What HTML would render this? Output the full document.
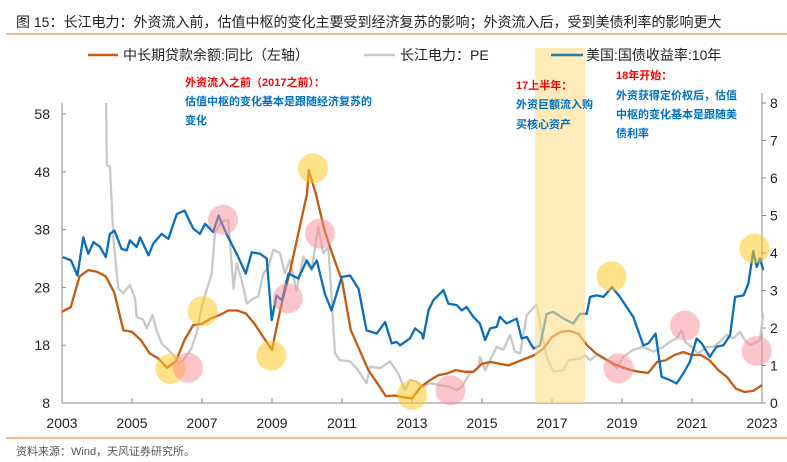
<!DOCTYPE html>
<html><head><meta charset="utf-8"><style>
body{margin:0;background:#fff;}
svg{display:block;font-family:"Liberation Sans","Noto Sans CJK SC",sans-serif;}
</style></head><body>
<svg id="chart" width="787" height="462" viewBox="0 0 787 462">
<text x="16" y="27" font-size="14" fill="#222">图 15：长江电力：外资流入前，估值中枢的变化主要受到经济复苏的影响；外资流入后，受到美债利率的影响更大</text>
<line x1="6" y1="34" x2="787" y2="34" stroke="#f4a460" stroke-width="1.5"/>
<g id="axes"></g>
<g id="series"></g>
<rect x="535" y="48" width="50" height="355" fill="rgba(253,222,140,0.6)"/>
<g id="circles"></g>
<g>
<line x1="88" y1="55" x2="118" y2="55" stroke="#c55a11" stroke-width="2.5"/>
<text x="123" y="60" font-size="14" fill="#222">中长期贷款余额:同比（左轴）</text>
<line x1="364" y1="55" x2="395" y2="55" stroke="#c8c8c8" stroke-width="2.5"/>
<text x="400" y="60" font-size="14" fill="#222">长江电力：PE</text>
<line x1="551" y1="55" x2="583" y2="55" stroke="#2a7f9e" stroke-width="2.5"/>
<text x="586" y="60" font-size="14" fill="#222">美国:国债收益率:10年</text>
</g>
<g font-size="11" font-weight="bold">
<text x="185" y="86" fill="#ff0000">外资流入之前（2017之前）：</text>
<text x="185" y="105" fill="#0070c0">估值中枢的变化基本是跟随经济复苏的</text>
<text x="185" y="124" fill="#0070c0">变化</text>
<text x="516" y="89" fill="#ff0000">17上半年：</text>
<text x="516" y="108" fill="#0070c0">外资巨额流入购</text>
<text x="516" y="128" fill="#0070c0">买核心资产</text>
<text x="616" y="79" fill="#ff0000">18年开始：</text>
<text x="616" y="99" fill="#0070c0">外资获得定价权后，估值</text>
<text x="616" y="118" fill="#0070c0">中枢的变化基本是跟随美</text>
<text x="616" y="137" fill="#0070c0">债利率</text>
</g>
<line x1="6" y1="438" x2="787" y2="438" stroke="#f4a460" stroke-width="1.5"/>
<text x="16" y="455" font-size="11" fill="#555">资料来源：Wind，天风证券研究所。</text>
</svg>
<script>
const loanDates=[2003,2003.25,2003.5,2003.75,2004,2004.25,2004.5,2004.75,2005,2005.25,2005.5,2005.75,2006,2006.25,2006.5,2006.75,2007,2007.25,2007.5,2007.75,2008,2008.25,2008.5,2008.75,2009,2009.25,2009.5,2009.75,2010,2010.05,2010.25,2010.5,2010.75,2011,2011.25,2011.5,2011.75,2012,2012.25,2012.5,2012.75,2013,2013.25,2013.5,2013.75,2014,2014.25,2014.5,2014.75,2015,2015.25,2015.5,2015.75,2016,2016.25,2016.5,2016.75,2017,2017.25,2017.5,2017.75,2018,2018.25,2018.5,2018.75,2019,2019.25,2019.5,2019.75,2020,2020.25,2020.5,2020.75,2021,2021.25,2021.5,2021.75,2022,2022.25,2022.5,2022.75,2023];
const loanValues=[23.8,24.6,29.9,31.0,30.7,29.9,27.0,20.6,20.3,18.9,16.6,15.7,14.1,15.2,18.9,21.5,21.7,22.6,23.2,24.0,24.0,23.5,21.7,19.4,17.2,24.6,30.4,37.3,44.2,48.3,44.2,37.9,33.3,29.2,20.6,17.2,13.7,11.5,9.2,9.3,9.0,8.8,10.8,11.9,12.8,13.1,13.7,13.4,13.4,14.8,15.1,14.8,14.5,15.1,15.7,16.3,17.4,19.4,20.3,20.5,20.0,18.0,16.6,15.7,14.8,14.2,13.7,13.4,13.2,15.1,15.4,16.3,16.8,16.3,16.3,15.4,13.7,12.5,10.5,9.9,10.1,11.1];
const peDates=[2004.25,2004.28,2004.37,2004.47,2004.61,2004.75,2004.94,2005.09,2005.13,2005.32,2005.42,2005.59,2005.7,2005.85,2006.04,2006.18,2006.32,2006.47,2006.7,2006.85,2006.99,2007.13,2007.28,2007.37,2007.56,2007.75,2007.9,2007.99,2008.13,2008.28,2008.47,2008.61,2008.75,2008.9,2009.04,2009.23,2009.37,2009.51,2009.7,2009.9,2010.13,2010.32,2010.47,2010.61,2010.7,2010.8,2010.94,2011.23,2011.42,2011.7,2011.8,2012.09,2012.37,2012.61,2012.8,2012.94,2013.13,2013.32,2013.51,2013.8,2014.09,2014.28,2014.42,2014.66,2014.9,2014.94,2015.09,2015.23,2015.42,2015.61,2015.8,2015.94,2016.09,2016.28,2016.42,2016.56,2016.7,2016.85,2017.04,2017.33,2017.47,2017.8,2017.94,2018.09,2018.28,2018.47,2018.66,2018.85,2019.04,2019.32,2019.61,2019.9,2020.18,2020.37,2020.56,2020.7,2020.8,2020.99,2021.18,2021.42,2021.61,2021.8,2021.99,2022.18,2022.37,2022.51,2022.66,2022.85,2022.94,2023.04];
const peValues=[66,49.2,48.9,36.2,27.8,27.0,28.4,26.1,22.9,22.4,20.9,23.2,20.6,18.3,17.2,16.3,14.9,15.4,17.5,20.1,24.7,27.5,30.4,37.4,39.4,39.7,27.8,32.2,29.3,25.2,26.1,26.4,30.4,31.6,34.5,33.9,30.4,32.7,27.5,33.3,31.0,38.5,33.9,35.0,26.4,16.6,15.4,15.2,14.0,11.4,14.3,14.0,15.2,13.1,10.2,12.0,11.7,10.8,11.4,11.1,10.8,10.2,10.8,13.1,14.0,16.0,13.7,15.4,17.7,17.2,19.8,16.9,16.6,23.2,24.1,25.0,20.6,16.0,13.4,13.7,15.4,15.7,16.3,15.4,16.3,15.7,15.2,14.0,16.0,17.2,17.7,16.9,17.7,18.6,19.2,20.6,18.6,17.7,16.6,17.7,17.7,18.6,19.8,19.2,20.3,18.9,18.0,18.6,18.9,23.5];
const ustDates=[2003.02,2003.26,2003.44,2003.61,2003.75,2003.9,2004.09,2004.25,2004.37,2004.5,2004.7,2004.85,2004.94,2005.13,2005.23,2005.47,2005.61,2005.85,2006.04,2006.28,2006.5,2006.75,2006.94,2007.09,2007.32,2007.47,2007.7,2007.99,2008.25,2008.42,2008.66,2008.85,2008.99,2009.13,2009.28,2009.47,2009.75,2009.99,2010.13,2010.28,2010.51,2010.7,2010.99,2011.23,2011.47,2011.7,2011.99,2012.23,2012.42,2012.56,2012.66,2012.94,2013.09,2013.28,2013.32,2013.47,2013.61,2013.9,2014.04,2014.28,2014.42,2014.56,2014.75,2014.94,2015.09,2015.23,2015.42,2015.51,2015.7,2015.99,2016.13,2016.28,2016.47,2016.66,2016.85,2017.04,2017.33,2017.61,2017.8,2017.99,2018.09,2018.28,2018.47,2018.71,2018.94,2019.13,2019.32,2019.61,2019.75,2019.96,2020.13,2020.37,2020.56,2020.75,2020.94,2021.13,2021.28,2021.51,2021.7,2021.9,2022.09,2022.23,2022.47,2022.61,2022.75,2022.85,2022.94,2023.04];
const ustValues=[3.89,3.80,3.40,4.42,3.98,4.29,4.16,3.89,4.51,4.60,4.11,4.07,4.34,4.16,4.42,3.94,4.25,4.51,4.38,5.04,5.13,4.65,4.51,4.78,4.56,5.0,4.51,3.98,3.45,4.02,3.98,3.85,2.21,2.87,2.74,3.45,3.32,3.80,3.58,3.80,2.92,2.47,3.36,3.40,3.05,1.94,1.85,2.16,1.59,1.63,1.54,1.72,1.99,1.85,1.72,2.47,2.74,3.01,2.65,2.61,2.47,2.56,2.30,2.12,1.68,1.99,2.03,2.30,2.12,2.25,1.72,1.76,1.45,1.54,2.38,2.43,2.25,2.12,2.38,2.38,2.83,2.87,2.83,3.09,2.83,2.56,2.30,1.54,1.59,1.85,0.70,0.61,0.52,0.79,1.10,1.72,1.59,1.23,1.50,1.54,1.81,2.83,2.87,3.18,4.05,3.63,3.85,3.54];
const leftTicks=[8,18,28,38,48,58];
const rightTicks=[0,1,2,3,4,5,6,7,8];
const yearTicks=[2003,2005,2007,2009,2011,2013,2015,2017,2019,2021,2023];
const yellowCircleDates=[2006.1,2007.02,2008.98,2010.17,2013.0,2018.7,2022.78];
const yellowCircleValues=[13.9,23.9,16.2,48.6,9.4,29.9,34.7];
const pinkCircleDates=[2006.6,2007.6,2009.45,2010.37,2014.1,2018.9,2020.8,2022.85];
const pinkCircleValues=[14.1,39.7,26.1,37.3,10.2,14.0,21.4,17.0];

const X0=62,X1=762,YB=403,YT=103;
const xS=d=>X0+(d-2003)*(X1-X0)/20;
const yL=v=>YB-(v-8)*5.78;
const yR=v=>YB-v*(YB-YT)/8;
const NS='http://www.w3.org/2000/svg';
function mk(tag,attrs,parent){const e=document.createElementNS(NS,tag);for(const k in attrs)e.setAttribute(k,attrs[k]);parent.appendChild(e);return e;}
const axes=document.getElementById('axes'),series=document.getElementById('series'),circ=document.getElementById('circles');
const svg=document.getElementById('chart');
const cp=mk('clipPath',{id:'plotclip'},svg);mk('rect',{x:X0,y:YT,width:X1-X0+2,height:YB-YT},cp);

let a=mk('line',{x1:X0,y1:YT,x2:X0,y2:YB,stroke:'#888'},axes);

a=mk('line',{x1:X1,y1:YT-10,x2:X1,y2:YB,stroke:'#888'},axes);

a=mk('line',{x1:X0,y1:YB,x2:X1,y2:YB,stroke:'#888'},axes);

leftTicks.forEach(v=>{const y=yL(v);mk('line',{x1:X0,y1:y,x2:X0+4,y2:y,stroke:'#888'},axes);
 const t=mk('text',{x:X0-12,y:y+5,'font-size':14,'text-anchor':'end',fill:'#222'},axes);t.textContent=v;
 });
rightTicks.forEach(v=>{const y=yR(v);mk('line',{x1:X1,y1:y,x2:X1+4,y2:y,stroke:'#888'},axes);
 const t=mk('text',{x:X1+8,y:y+5,'font-size':14,fill:'#222'},axes);t.textContent=v;
 });
yearTicks.forEach(d=>{const x=xS(d);mk('line',{x1:x,y1:YB,x2:x,y2:YB-5,stroke:'#888'},axes);
 const t=mk('text',{x:x,y:428,'font-size':14,'text-anchor':'middle',fill:'#222'},axes);t.textContent=d;
 });

yellowCircleDates.forEach((d,i)=>{const c=mk('circle',{cx:xS(d),cy:yL(yellowCircleValues[i]),r:15,fill:'rgba(255,200,40,0.55)'},circ);
 });
pinkCircleDates.forEach((d,i)=>{const c=mk('circle',{cx:xS(d),cy:yL(pinkCircleValues[i]),r:15,fill:'rgba(250,140,150,0.5)'},circ);
 });

function line(dates,vals,ys,color,name){
 const p=dates.map((d,i)=>xS(d).toFixed(1)+','+ys(vals[i]).toFixed(1)).join(' ');
 const l=mk('polyline',{points:p,fill:'none',stroke:color,'stroke-width':2.3,'stroke-linejoin':'round','clip-path':'url(#plotclip)'},series);
 
 
}
line(peDates,peValues,yL,'#c8c8c8','pe-line');
line(loanDates,loanValues,yL,'#c55a11','loan-growth-line');
line(ustDates,ustValues,yR,'#0a6ebd','ust-10y-line');
</script>
</body></html>
